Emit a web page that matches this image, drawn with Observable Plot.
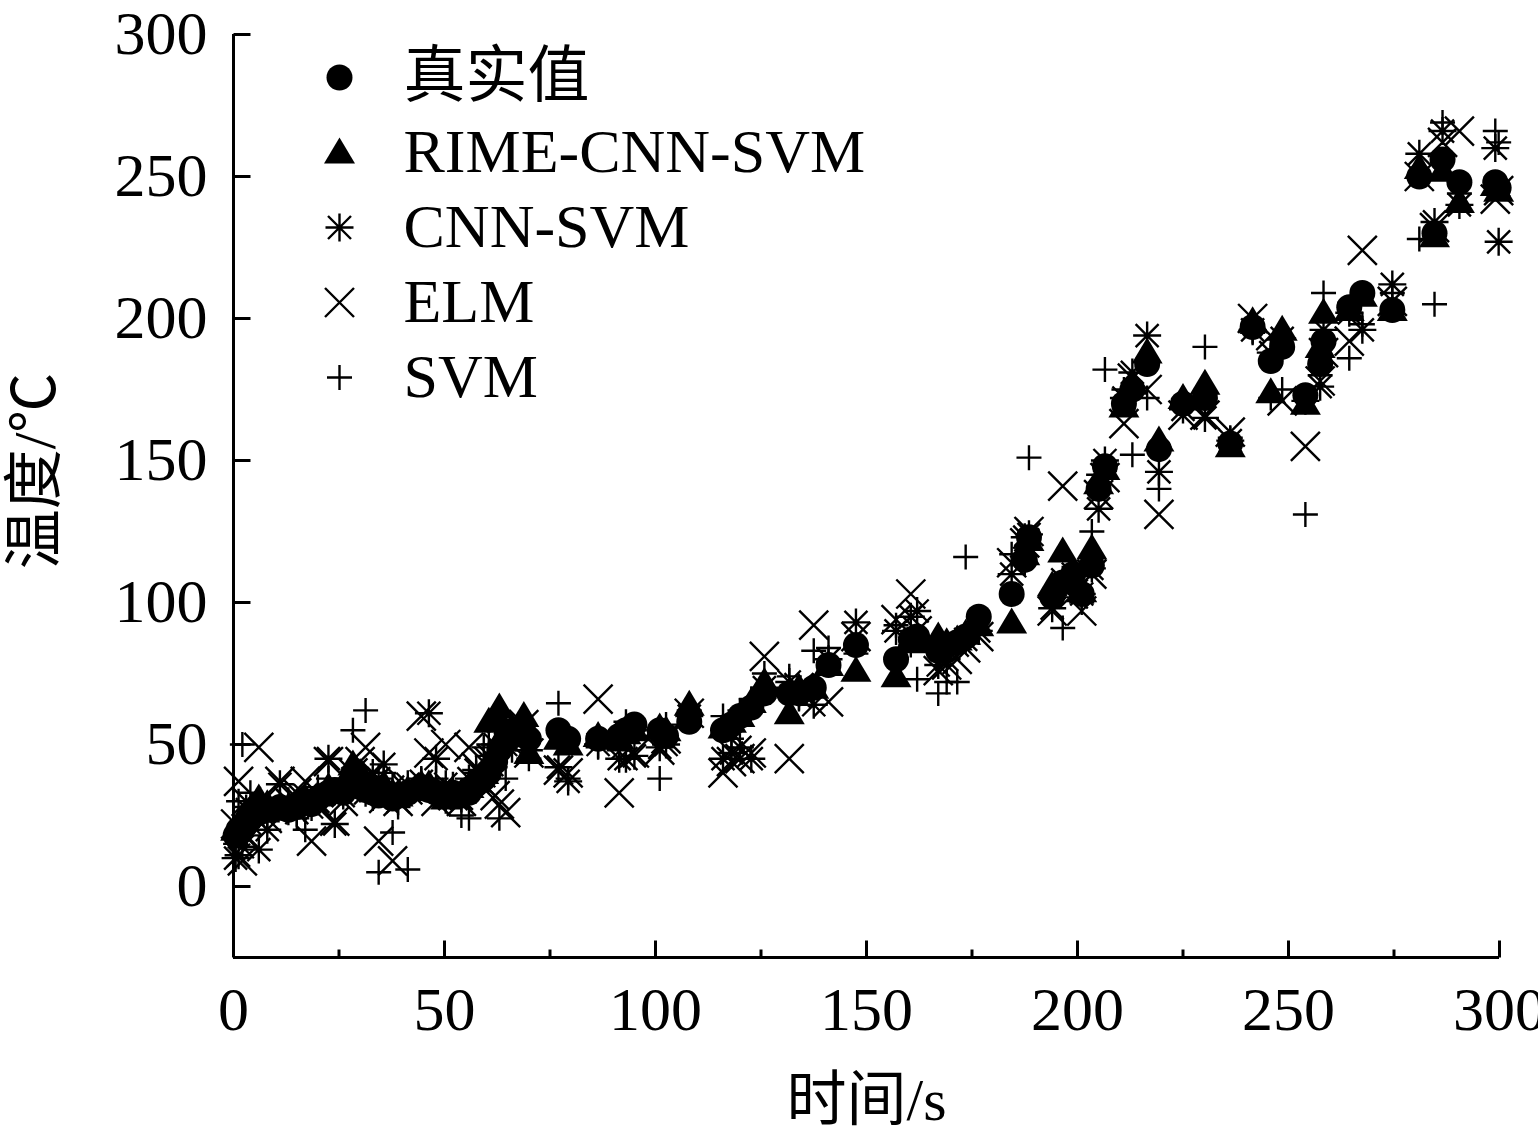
<!DOCTYPE html>
<html>
<head>
<meta charset="utf-8">
<script src="https://cdn.jsdelivr.net/npm/d3@7"></script>
<script src="https://cdn.jsdelivr.net/npm/@observablehq/plot@0.6"></script>
<style>
  html, body { margin: 0; padding: 0; background: #fff; }
</style>
</head>
<body>
<div id="chart"></div>
<script>
// ---- data ----
const time = [0.5,1.2,2.1,3,4,6,8,11,13,15,17,18.5,20,22.5,24,26,28.3,30,31.3,33,34.4,35.6,37.7,39,41.3,44.5,46.3,48,50.3,52,54,55.8,57.5,59.3,60.5,62,63,64.5,66,68.8,70,77,79.3,86.4,91.4,93,95,101,102.5,108,116,118,120,122.7,125.8,131.7,134,137.5,141,147.5,157,160.5,162,167,169,171.5,173.5,176.6,184.4,187.5,188.5,194,196.5,199,201,203.4,205,206.5,211,213,216.5,219.3,225,230.2,236.2,241.5,245.8,248.5,254,257.5,258.3,264.4,267.5,274.6,281,284.6,286.5,290.5,299,299.8];
const trueVals = [18,20,21,22,24,26,27,28,27,28,30,29,31,33,34,33,37,35,34,33,32,33,31,32,33,35,34,33,32,33,32,33,36,38,40,44,48,51,53,54,52,55,52,52,53,55,57,55,53,58,55,57,60,63,68,68,68,70,78,85,80,87,88,83,85,86,88,95,103,115,123,102,107,110,103,113,140,148,170,175,184,154,170,172,156,197,185,190,173,184,192,204,209,203,250,230,256,248,248,246];
const rime = [20,22,24,26,27,31,29,27,28,29,31,30,32,35,33,36,43,40,37,35,34,36,33,32,34,36,36,34,31,32,33,35,37,40,58,60,63,55,56,60,47,52,50,53,52,54,55,56,55,64,56,58,60,65,72,61,70,70,78,76,74,87,86,88,86,87,89,92,93,117,122,106,118,108,104,119,142,147,169,177,188,157,172,177,155,199,174,196,170,190,202,203,208,203,253,229,252,241,247,245];
const cnnSvm = [10,11,14,18,22,13,20,36,30,26,32,28,30,45,22,32,38,36,33,40,38,43,35,30,36,37,61,45,36,34,31,38,41,39,46,50,58,50,54,52,48,42,37,50,45,45,46,49,50,60,45,47,49,45,70,72,67,64,80,93,90,95,97,78,80,85,87,90,110,123,124,98,108,110,103,112,133,150,172,181,194,146,168,165,157,196,188,193,171,176,196,202,196,212,258,234,266,240,260,227];
const elm = [22,37,9,30,26,49,24,37,30,33,37,16,28,44,23,30,40,44,49,36,16,31,9,30,34,60,47,30,50,32,30,49,42,36,44,32,29,26,50,57,47,41,40,66,33,50,47,48,52,61,40,44,45,47,81,45,70,92,65,88,94,103,90,76,78,80,84,88,114,121,125,97,141,103,97,110,138,144,163,179,175,131,166,166,160,200,194,171,155,178,188,192,224,206,250,232,262,266,242,245];
const svm = [15,30,50,28,33,25,23,30,26,24,20,31,35,38,33,36,55,34,62,31,5,40,19,28,6,38,35,38,30,36,25,24,40,49,50,42,24,38,48,55,45,64.5,38,49,48,58,55,38,57,62,60,52,62,66,75,74,66,83,84,82,92,85,73,68,72,72,116,90,117,114,151,103,91,105,100,125,145,182,175,152,172,140,170,190,158,195,172,175,131,180,209,186,198,209,228,205,269,244,266,262];
const seriesNames = ["真实值", "RIME-CNN-SVM", "CNN-SVM", "ELM", "SVM"];
const xMajorTicks = [0, 50, 100, 150, 200, 250, 300];
const xMinorTicks = [25, 75, 125, 175, 225, 275];
const yTicks = [0, 50, 100, 150, 200, 250, 300];
const xTitle = "时间/s";
const yTitle = "温度/℃";

// ---- symbols ----
const triSym = {draw(c) { c.moveTo(0, -15); c.lineTo(15.5, 11); c.lineTo(-15.5, 11); c.closePath(); }};
const astSym = {draw(c) { const a = 14, d = 11.5;
  c.moveTo(0, -a); c.lineTo(0, a); c.moveTo(-a, 0); c.lineTo(a, 0);
  c.moveTo(-d, -d); c.lineTo(d, d); c.moveTo(-d, d); c.lineTo(d, -d); }};
const timesSym = {draw(c) { const d = 14.5; c.moveTo(-d, -d); c.lineTo(d, d); c.moveTo(-d, d); c.lineTo(d, -d); }};
const plusSym = {draw(c) { const a = 12.5; c.moveTo(0, -a); c.lineTo(0, a); c.moveTo(-a, 0); c.lineTo(a, 0); }};
const tickUpMajor = {draw(c) { c.moveTo(0, 0); c.lineTo(0, -17); }};
const tickUpMinor = {draw(c) { c.moveTo(0, 0); c.lineTo(0, -8); }};
const tickRight = {draw(c) { c.moveTo(0, 0); c.lineTo(17, 0); }};

const rows = time.map((t, i) => ({t, T: trueVals[i], R: rime[i], C: cnnSvm[i], E: elm[i], S: svm[i]}));

const styles = [
  {key: "T", symbol: "circle", r: 13, fill: "black", stroke: "none", strokeWidth: 0},
  {key: "R", symbol: triSym, fill: "black", stroke: "none", strokeWidth: 0},
  {key: "C", symbol: astSym, fill: "none", stroke: "black", strokeWidth: 2.4},
  {key: "E", symbol: timesSym, fill: "none", stroke: "black", strokeWidth: 2.4},
  {key: "S", symbol: plusSym, fill: "none", stroke: "black", strokeWidth: 2.4}
];

const FONT = "'Liberation Serif', 'Times New Roman', 'Noto Sans CJK SC', serif";

const marks = [];
// data points
styles.forEach(s => {
  marks.push(Plot.dot(rows, {x: "t", y: s.key, symbol: s.symbol, r: s.r ?? 6,
    fill: s.fill, stroke: s.stroke, strokeWidth: s.strokeWidth}));
});
// axis lines
marks.push(Plot.ruleX([0], {stroke: "black", strokeWidth: 3}));
marks.push(Plot.ruleY([-25], {stroke: "black", strokeWidth: 3}));
// inward ticks
marks.push(Plot.dot(xMajorTicks, {x: d => d, y: -25, symbol: tickUpMajor, stroke: "black", strokeWidth: 3, fill: "none"}));
marks.push(Plot.dot(xMinorTicks, {x: d => d, y: -25, symbol: tickUpMinor, stroke: "black", strokeWidth: 3, fill: "none"}));
marks.push(Plot.dot(yTicks, {x: 0, y: d => d, symbol: tickRight, stroke: "black", strokeWidth: 3, fill: "none"}));
// tick labels
marks.push(Plot.axisX({ticks: xMajorTicks, tickSize: 0, tickPadding: 28, label: null, fontSize: 62, fill: "black"}));
marks.push(Plot.axisY({ticks: yTicks, tickSize: 0, tickPadding: 26, label: null, fontSize: 62, fill: "black"}));
// axis titles
marks.push(Plot.text([xTitle], {frameAnchor: "bottom", dy: 143, fontSize: 60, textAnchor: "middle", lineAnchor: "middle", fill: "black"}));
marks.push(Plot.text([yTitle], {frameAnchor: "left", dx: -198, dy: -25, rotate: -90, fontSize: 60, textAnchor: "middle", lineAnchor: "middle", fill: "black"}));
// legend
styles.forEach((s, i) => {
  const dy = 43 + 75 * i;
  marks.push(Plot.dot([seriesNames[i]], {frameAnchor: "top-left", dx: 106, dy, symbol: s.symbol, r: s.r ?? 6,
    fill: s.fill, stroke: s.stroke, strokeWidth: s.strokeWidth}));
  marks.push(Plot.text([seriesNames[i]], {frameAnchor: "top-left", dx: 170, dy, textAnchor: "start",
    lineAnchor: "middle", fontSize: 62, fill: "black"}));
});

const chart = Plot.plot({
  width: 1538,
  height: 1145,
  marginLeft: 233,
  marginRight: 39,
  marginTop: 34,
  marginBottom: 188,
  x: {domain: [0, 300], axis: null},
  y: {domain: [-25, 300], axis: null},
  style: {fontFamily: FONT, fontSize: "62px", background: "white", color: "black", overflow: "visible"},
  marks
});
document.getElementById("chart").appendChild(chart);
</script>
</body>
</html>
